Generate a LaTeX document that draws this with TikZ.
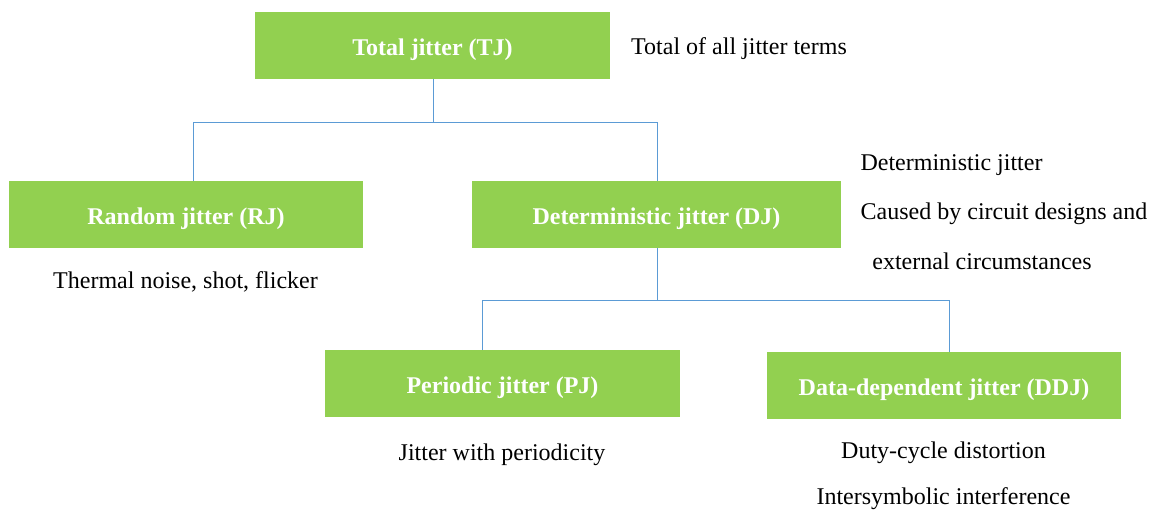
\documentclass[tikz,border=0pt]{standalone}
\usepackage{fontspec}
\setmainfont{Liberation Serif}
\definecolor{boxgreen}{HTML}{92D050}
\definecolor{lineblue}{HTML}{5B9BD5}
\begin{document}
\begin{tikzpicture}[x=1pt,y=-1pt,
  jbox/.style={fill=boxgreen,draw=none,text=white,font=\fontsize{24}{28}\selectfont\bfseries,minimum height=67pt,inner sep=0pt,text height=19pt,text depth=0pt},
  note/.style={font=\fontsize{24}{28}\selectfont,inner sep=0pt,anchor=center},
  conn/.style={draw=lineblue,line width=1pt}]
\useasboundingbox (0,0) rectangle (1155,509);
\node[jbox,minimum width=355pt] (tj) at (432.5,45.5) {Total jitter (TJ)};
\node[jbox,minimum width=354pt] (rj) at (186,214.5) {Random jitter (RJ)};
\node[jbox,minimum width=369pt] (dj) at (656.5,214.5) {Deterministic jitter (DJ)};
\node[jbox,minimum width=355pt] (pj) at (502.5,383.5) {Periodic jitter (PJ)};
\node[jbox,minimum width=354pt] (ddj) at (944,385.5) {Data-dependent jitter (DDJ)};
\coordinate (j1) at (433,122);
\coordinate (j2) at (657,300);
\draw[conn] (tj.south -| j1) -- (j1);
\draw[conn] (j1) -| (rj.north -| 193,0);
\draw[conn] (j1) -| (dj.north -| 657,0);
\draw[conn] (dj.south -| j2) -- (j2);
\draw[conn] (j2) -| (pj.north -| 482,0);
\draw[conn] (j2) -| (ddj.north -| 949,0);
\node[note] (ntj) at (739,49) {Total of all jitter terms};
\node[note] (ndj1) at (951.5,165) {Deterministic jitter};
\node[note] (ndj2) at (1004,214) {Caused by circuit designs and};
\node[note] (ndj3) at (982,261) {external circumstances};
\node[note] (nrj) at (185.5,282) {Thermal noise, shot, flicker};
\node[note] (npj) at (502,455) {Jitter with periodicity};
\node[note] (nddj1) at (943.5,453) {Duty-cycle distortion};
\node[note] (nddj2) at (943.5,499) {Intersymbolic interference};
\end{tikzpicture}
\end{document}
